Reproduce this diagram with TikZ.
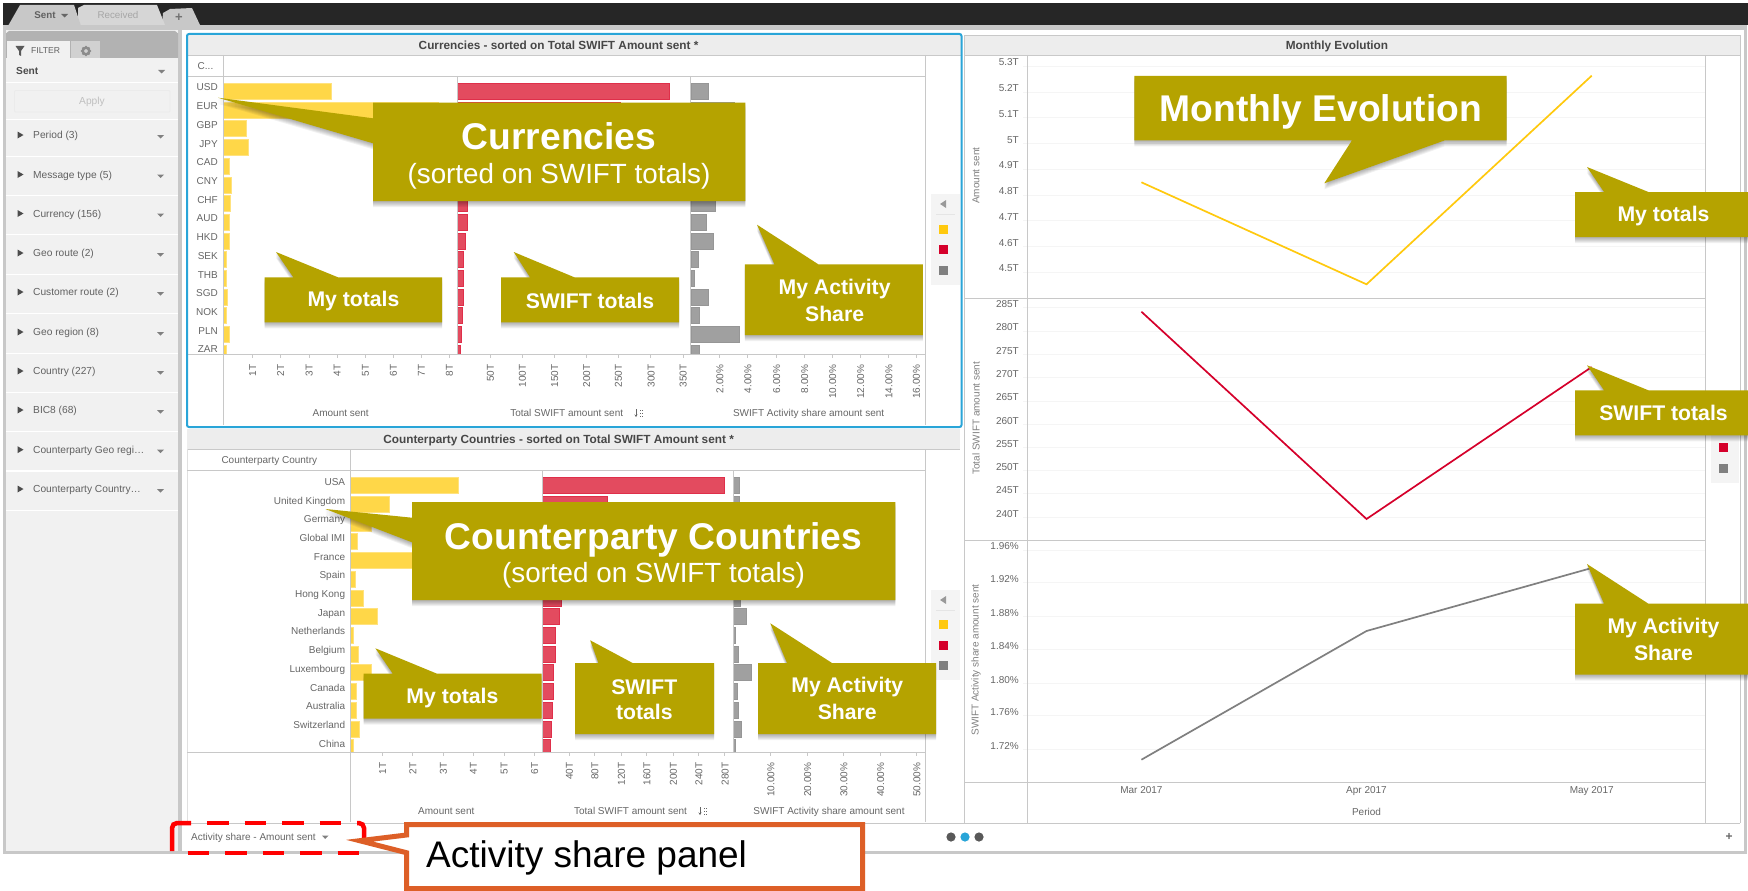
\documentclass[tikz,border=0pt]{standalone}
\usepackage{fontspec}
\setmainfont{Liberation Sans}
\definecolor{bubc}{HTML}{B5A300}
\definecolor{txt}{HTML}{666666}
\definecolor{frame}{HTML}{C8C8C8}
\definecolor{side}{HTML}{F1F1F1}
\definecolor{axisc}{HTML}{C8C8C8}
\definecolor{gridc}{HTML}{F5F5F5}
\definecolor{headc}{HTML}{EDEDED}
\definecolor{yfill}{HTML}{FFD748}
\definecolor{yedge}{HTML}{FFE27F}
\definecolor{rfill}{HTML}{E34B5F}
\definecolor{redge}{HTML}{DF2F4A}
\definecolor{gfill}{HTML}{A0A0A0}
\definecolor{gedge}{HTML}{969696}
\definecolor{lyel}{HTML}{FFC90E}
\definecolor{lred}{HTML}{D5002B}
\definecolor{lgry}{HTML}{808080}
\definecolor{orng}{HTML}{DD5F27}
\definecolor{blu}{HTML}{29A5D8}
\newcommand\fs[1]{\fontsize{#1}{#1}\selectfont}
\newcommand\bubble[1]{\foreach \dy in {1,...,6}{\fill[black,opacity=.055,shift={(0,\dy)}] #1;}\fill[bubc] #1;}
\newcommand\sorticon[2]{%
  \draw[txt,line width=.7,-{Stealth[length=2.5pt,width=3pt]}] (#1-3,#2-4) -- (#1-3,#2+4);
  \foreach \q in {-3.5,-.5,2.5}{\fill[txt] (#1+.5,#2+\q) rectangle +(1.4,1.4); \fill[txt] (#1+3,#2+\q) rectangle +(1.4,1.4);}}
\usetikzlibrary{arrows.meta}
\tikzset{
  x=1pt,y=-1pt,
  lab/.style={inner sep=0,text=txt,font=\fs{10},text height=7.2pt,text depth=0pt},
  ttl/.style={inner sep=0,text=black!72,font={\fs{11.8}\bfseries},text height=8.5pt,text depth=0pt},
  rot/.style={inner sep=0,text=black!50,font=\fs{10},rotate=90},
  tick/.style={lab,rotate=90,anchor=east},
  bbig/.style={inner sep=0,text=white,font={\fs{37.2}\bfseries},text height=26.6pt,text depth=0pt},
  bsub/.style={inner sep=0,text=white,font=\fs{27.8}},
  bmid/.style={inner sep=0,text=white,font={\fs{21.2}\bfseries}},
  axl/.style={axisc,line width=.9},
  grd/.style={gridc,line width=.9},
  plot/.style={line width=1.7,line join=miter},
  yb/.style={fill=yfill,draw=yedge,line width=.7},
  rb/.style={fill=rfill,draw=redge,line width=.7},
  gb/.style={fill=gfill,draw=gedge,line width=.7},
  sidetxt/.style={inner sep=0,text=black!62,font=\fs{10.2},anchor=west,text height=7.4pt,text depth=0pt},
  dashbox/.style={red,line width=4.5,dash pattern=on 21.5pt off 16pt},
  solidbox/.style={red,line width=4.5,rounded corners=5pt},
}
\begin{document}
\begin{tikzpicture}
\useasboundingbox (0,0) rectangle (1748,891);
\fill[white] (0,0) rectangle (1748,891);
% window frame
\fill[frame] (3,3) rectangle (1747,854);
\fill[white] (182,30) rectangle (1744,851);
\fill[black!85] (3,3) rectangle (1748,25);
% tabs
\fill[frame] (162,25) -- (163,13) -- (170,9) -- (192,8) -- (200,25) -- cycle;
\fill[black!16] (78,25) -- (78,8) -- (84,5) -- (157,5) -- (165,25) -- cycle;
\fill[frame] (8,26) -- (20,5) -- (74,5) -- (81,26) -- cycle;
\node[inner sep=0,text=black!62,font={\fs{9.8}\bfseries}] (tabsent) at (45,15) {Sent};
\fill[black!60] (61,14) -- (68,14) -- (64.5,17.5) -- cycle;
\node[inner sep=0,text=black!35,font=\fs{9.8}] (tabrecv) at (118,15) {Received};
\node[inner sep=0,text=black!55,font={\fs{13}\bfseries}] (tabplus) at (179,18) {+};
% sidebar
\fill[side] (6,30) rectangle (178,851);
\fill[black!30] (6,33) to[out=-90,in=180] (9,31) -- (175,31) to[out=0,in=-90] (178,33) -- (178,58) -- (6,58) -- cycle;
\fill[side] (7,41) rectangle (70,58);
\fill[black!18] (71,41) rectangle (100,58);
\fill[black!65] (15.5,46) -- (24.5,46) -- (21,51) -- (21,56) -- (19,55) -- (19,51) -- cycle;
\node[inner sep=0,text=black!62,font=\fs{8.6},anchor=west] (filt) at (31,51) {FILTER};
\fill[black!45,even odd rule] (86,51) circle (4.5) (86,51) circle (2);
\foreach \a in {0,45,...,315}{\fill[black!45] (86,51) ++(\a:4) circle (1.3);}
\node[inner sep=0,text=black!70,font={\fs{10.2}\bfseries},anchor=west] (sent) at (16,71) {Sent};
\fill[black!50] (158,70) -- (165,70) -- (161.5,73.5) -- cycle;
\draw[white,line width=1.2] (6,82.5) -- (178,82.5);
\draw[black!8,line width=.8,rounded corners=1pt,fill=side] (14.5,90.5) rectangle (170,112);
\node[inner sep=0,text=black!25,font=\fs{10.2}] (apply) at (92,101.5) {Apply};
\draw[white,line width=1.2] (6,119.5) -- (178,119.5);
\foreach \yy/\lbl [count=\i] in {135/Period (3),174.5/Message type (5),213.5/Currency (156),253/Geo route (2),292/Customer route (2),332/Geo region (8),371/Country (227),410/BIC8 (68),449.7/Counterparty Geo regi…,489/Counterparty Country…}{
  \node[sidetxt] (flt\i) at (33,\yy) {\lbl};
  \fill[black!70] (17.5,\yy-3.5) -- (23.5,\yy) -- (17.5,\yy+3.5) -- cycle;
  \fill[black!50] (157,\yy) -- (164,\yy) -- (160.5,\yy+3.5) -- cycle;
  \draw[white,line width=1.2] (6,\yy+21.3) -- (178,\yy+21.3);
}
% ---------- Currencies panel
\fill[headc] (187,34) rectangle (961,55);
\draw[headc!85!black,line width=.8] (187,55) -- (961,55);
\node[ttl] (curt) at (558.6,45) {Currencies - sorted on Total SWIFT Amount sent *};
\node[lab] (curc) at (205.5,66) {C...};
\begin{scope}
\clip (187,76) rectangle (925,353.5);
\foreach \v [count=\i from 0] in {297,507,130,134,96,101,99,96,96,91,91,92,91,96,91}{
  \pgfmathsetmacro\cy{91.3+18.71*\i}
  \path[yb] (223.4,\cy-8) rectangle ({180+\v/1.96},\cy+8);}
\foreach \v [count=\i from 0] in {960,863,700,680,640,620,563,563,559,555,555,555,553,552,549}{
  \pgfmathsetmacro\cy{91.3+18.71*\i}
  \path[rb] (457.5,\cy-8) rectangle ({180+\v/1.96},\cy+8);}
\foreach \v [count=\i from 0] in {1035,1087,1040,1030,1040,1040,1050,1031,1045,1015,1008,1035,1018,1096,1018}{
  \pgfmathsetmacro\cy{91.3+18.71*\i}
  \path[gb] (691,\cy-8) rectangle ({180+\v/1.96},\cy+8);}
\end{scope}
\foreach \lbl [count=\i from 0] in {USD,EUR,GBP,JPY,CAD,CNY,CHF,AUD,HKD,SEK,THB,SGD,NOK,PLN,ZAR}{
  \node[lab,anchor=east] (cur\i) at (218,87.3+18.71*\i) {\lbl};}
\draw[axl] (223.4,55) -- (223.4,425);
\draw[axl] (925,55) -- (925,425);
\draw[axl] (187,76) -- (925,76);
\draw[axl] (187,354) -- (925,354);
\draw[axl] (457,76) -- (457,354);
\draw[axl] (690.7,76) -- (690.7,354);
\foreach \z/\lbl [count=\i] in {142/1T,197/2T,253/3T,308/4T,363/5T,418/6T,473/7T,528/8T,608/50T,671/100T,734/150T,797/200T,859/250T,923/300T,986/350T,1058/2.00\%,1113/4.00\%,1169/6.00\%,1224/8.00\%,1279/10.00\%,1334/12.00\%,1389/14.00\%,1443/16.00\%}{
  \draw[axl] ({180+\z/1.96},354) -- ++(0,4);
  \node[tick] (ct\i) at ({180+\z/1.96},364.5) {\lbl};}
\node[lab] (cax1) at (340.7,413) {Amount sent};
\node[lab] (cax2) at (566.7,413) {Total SWIFT amount sent};
\sorticon{639}{413}
\node[lab] (cax3) at (808.6,413) {SWIFT Activity share amount sent};
% legend top
\fill[headc!60!white] (931,194) rectangle (960,285);
\fill[black!40] (946,200) -- (946,208) -- (940,204) -- cycle;
\draw[black!10] (936,214) -- (955,214);
\fill[lyel] (938.5,224.5) rectangle (947.5,233.5);
\fill[lred] (938.5,245) rectangle (947.5,254);
\fill[lgry] (938.5,265.5) rectangle (947.5,274.5);
\draw[blu,line width=2,rounded corners=2pt] (187,34) rectangle (961.5,427);
% ---------- Counterparty panel
\fill[headc] (187,429) rectangle (960,449);
\draw[headc!85!black,line width=.8] (187,449) -- (960,449);
\node[ttl] (cpt) at (558.6,439) {Counterparty Countries - sorted on Total SWIFT Amount sent *};
\node[lab] (cpc) at (269.3,460) {Counterparty Country};
\begin{scope}
\clip (187,470) rectangle (925,751.8);
\foreach \v [count=\i from 0] in {545,411,375,347,520,344,360,387,340,349,376,345,345,351,340}{
  \pgfmathsetmacro\cy{485.7+18.71*\i}
  \path[yb] (350.8,\cy-8) rectangle ({180+\v/1.96},\cy+8);}
\foreach \v [count=\i from 0] in {1066,838,800,780,770,760,748,744,736,736,732,732,730,728,726}{
  \pgfmathsetmacro\cy{485.7+18.71*\i}
  \path[rb] (542.6,\cy-8) rectangle ({180+\v/1.96},\cy+8);}
\foreach \v [count=\i from 0] in {1097,1097,1095,1093,1095,1096,1098,1111,1089,1094,1120,1093,1094,1101,1089}{
  \pgfmathsetmacro\cy{485.7+18.71*\i}
  \path[gb] (733.4,\cy-8) rectangle ({180+\v/1.96},\cy+8);}
\end{scope}
\foreach \lbl [count=\i from 0] in {USA,United Kingdom,Germany,Global IMI,France,Spain,Hong Kong,Japan,Netherlands,Belgium,Luxembourg,Canada,Australia,Switzerland,China}{
  \node[lab,anchor=east] (cp\i) at (345.3,481.7+18.71*\i) {\lbl};}
\draw[black!12,line width=.9] (187,449) -- (187,823);
\draw[axl] (350.4,449) -- (350.4,822);
\draw[axl] (925,449) -- (925,822);
\draw[axl] (187,470.3) -- (925,470.3);
\draw[axl] (187,752.3) -- (925,752.3);
\draw[axl] (187,823) -- (1740,823);
\draw[axl] (542.2,470.3) -- (542.2,752.3);
\draw[axl] (733,470.3) -- (733,752.3);
\foreach \z/\lbl [count=\i] in {397/1T,456/2T,516/3T,575/4T,635/5T,695/6T,763/40T,813/80T,865/120T,915/160T,967/200T,1017/240T,1068/280T,1158/10.00\%,1230/20.00\%,1301/30.00\%,1373/40.00\%,1444/50.00\%}{
  \draw[axl] ({180+\z/1.96},752.3) -- ++(0,4);
  \node[tick] (pt\i) at ({180+\z/1.96},762.5) {\lbl};}
\node[lab] (pax1) at (446.3,811) {Amount sent};
\node[lab] (pax2) at (630.5,811) {Total SWIFT amount sent};
\sorticon{703}{811}
\node[lab] (pax3) at (829,811) {SWIFT Activity share amount sent};
% legend lower
\fill[headc!60!white] (931,590) rectangle (960,680);
\fill[black!40] (946,596) -- (946,604) -- (940,600) -- cycle;
\draw[black!10] (936,610) -- (955,610);
\fill[lyel] (938.5,620.2) rectangle (947.5,629.2);
\fill[lred] (938.5,640.5) rectangle (947.5,649.5);
\fill[lgry] (938.5,661.2) rectangle (947.5,670.2);
% ---------- Monthly Evolution panel
\fill[headc] (964,35) rectangle (1740,55);
\draw[axisc,line width=.9] (964,55) -- (964,35) -- (1740,35) -- (1740,823);
\draw[axisc,line width=.9] (964,55) -- (964,823);
\draw[headc!85!black,line width=.8] (964,55) -- (1740,55);
\node[ttl] (mont) at (1337,45) {Monthly Evolution};
\foreach \g/\lbl [count=\i] in {66/5.3T,92/5.2T,117.3/5.1T,143.3/5T,169/4.9T,195/4.8T,220.3/4.7T,246.7/4.6T,272/4.5T,307.3/285T,331/280T,354.3/275T,377.7/270T,401/265T,424.3/260T,447.3/255T,470.3/250T,493.7/245T,517.3/240T,550/1.96\%,582.7/1.92\%,616.3/1.88\%,649.3/1.84\%,683.3/1.80\%,715.7/1.76\%,749.3/1.72\%}{
  \draw[grd] (1023,\g) -- (1705,\g);
  \node[lab,anchor=east] (my\i) at (1019,\g-3.7) {\lbl};}
\draw[axl] (1027.3,55) -- (1027.3,823);
\draw[axl] (1705,55) -- (1705,823);
\draw[axl] (964,298.3) -- (1705,298.3);
\draw[axl,line width=1.2] (964,540.3) -- (1705,540.3);
\draw[axl] (964,782.3) -- (1705,782.3);
\coordinate (y1) at (1141.4,182.3);\coordinate (y2) at (1366.5,284.3);\coordinate (y3) at (1591.7,75.7);
\coordinate (r1) at (1141.4,311.7);\coordinate (r2) at (1366.5,519);\coordinate (r3) at (1591.7,367);
\coordinate (g1) at (1141.4,759.7);\coordinate (g2) at (1366.5,631);\coordinate (g3) at (1591.7,568);
\draw[plot,lyel] (y1) -- (y2) -- (y3);
\draw[plot,lred] (r1) -- (r2) -- (r3);
\draw[plot,lgry] (g1) -- (g2) -- (g3);
\node[rot] (ya) at (976,175.7) {Amount sent};
\node[rot] (yb) at (976,418.3) {Total SWIFT amount sent};
\node[rot] (yc) at (976,660) {SWIFT Activity share amount sent};
\node[lab] (xa) at (1141.4,790.3) {Mar 2017};
\node[lab] (xb) at (1366.5,790.3) {Apr 2017};
\node[lab] (xc) at (1591.7,790.3) {May 2017};
\node[lab] (xt) at (1366.5,812) {Period};
% legend right
\fill[headc!60!white] (1711,393) rectangle (1739,483);
\fill[lred] (1718.5,443) rectangle (1727.5,452);
\fill[lgry] (1718.5,463.5) rectangle (1727.5,472.5);
% bottom strip
\node[lab,anchor=west] (asb) at (191,836.7) {Activity share - Amount sent};
\fill[black!50] (322,835.5) -- (328.5,835.5) -- (325.2,839) -- cycle;
\fill[black!65] (951,837) circle (4.6);
\fill[blu] (965,837) circle (4.6);
\fill[black!65] (979,837) circle (4.6);
\node[inner sep=0,text=black!60,font={\fs{12}\bfseries}] (plusb) at (1729,837) {+};
% ---------- callouts
\bubble{(373,102.7) -- (745.3,102.7) -- (745.3,201) -- (373,201) -- (373,143.3) -- (218,97.7) -- (373,118.3) -- cycle}
\node[bbig] (n1) at (559,136) {Currencies};
\node[bsub] (n2) at (559,176.5) {(sorted on SWIFT totals)};
\bubble{(264.7,277.3) -- (293.3,277.3) -- (276,252) -- (338,277.3) -- (442.2,277.3) -- (442.2,322.3) -- (264.7,322.3) -- cycle}
\node[bmid] (n3) at (353.5,300.7) {My totals};
\bubble{(501,277.3) -- (530,277.3) -- (513.7,252) -- (574.4,277.3) -- (679,277.3) -- (679,322.3) -- (501,322.3) -- cycle}
\node[bmid] (n4) at (590,300.7) {SWIFT totals};
\bubble{(744.8,264.3) -- (774.4,264.3) -- (757,224.7) -- (818.3,264.3) -- (922.9,264.3) -- (922.9,335) -- (744.8,335) -- cycle}
\node[bmid] (n5) at (834.6,289.3) {My Activity};
\node[bmid] (n6) at (834.6,313.7) {Share};
\bubble{(412,502) -- (895.3,502) -- (895.3,600) -- (412,600) -- (412,542.3) -- (325.4,509) -- (412,517.7) -- cycle}
\node[bbig] (n7) at (653.5,535.7) {Counterparty Countries};
\node[bsub] (n8) at (653.5,575.3) {(sorted on SWIFT totals)};
\bubble{(363.7,673.7) -- (392.8,673.7) -- (375.4,648.3) -- (437,673.7) -- (541.7,673.7) -- (541.7,718.7) -- (363.7,718.7) -- cycle}
\node[bmid] (n9) at (452.4,697.7) {My totals};
\bubble{(575,663) -- (598.4,663) -- (590.2,640.3) -- (632.6,663) -- (714,663) -- (714,734) -- (575,734) -- cycle}
\node[bmid] (n10) at (644.3,686.7) {SWIFT};
\node[bmid] (n11) at (644.3,712) {totals};
\bubble{(758,663) -- (787,663) -- (770.3,623.3) -- (832,663) -- (936,663) -- (936,734) -- (758,734) -- cycle}
\node[bmid] (n12) at (847.3,686.7) {My Activity};
\node[bmid] (n13) at (847.3,712) {Share};
\bubble{(1134.4,76) -- (1506.7,76) -- (1506.7,140.3) -- (1445,140.3) -- (1324.3,183.3) -- (1352,140.3) -- (1134.4,140.3) -- cycle}
\node[bbig] (n14) at (1320.8,108.5) {Monthly Evolution};
\bubble{(1575,192) -- (1604,192) -- (1587,167) -- (1648.4,192) -- (1748,192) -- (1748,237) -- (1575,237) -- cycle}
\node[bmid] (n15) at (1663.5,215.7) {My totals};
\bubble{(1575,390.3) -- (1604,390.3) -- (1587,365.3) -- (1648.4,390.3) -- (1748,390.3) -- (1748,435.3) -- (1575,435.3) -- cycle}
\node[bmid] (n16) at (1663.5,413.3) {SWIFT totals};
\bubble{(1575,603.7) -- (1604,603.7) -- (1587,564) -- (1648.4,603.7) -- (1748,603.7) -- (1748,674.7) -- (1575,674.7) -- cycle}
\node[bmid] (n17) at (1663.5,627.7) {My Activity};
\node[bmid] (n18) at (1663.5,652.7) {Share};
% ---------- activity share panel marker
\draw[solidbox] (172,851) -- (172,823) -- (191,823);
\draw[dashbox] (207,823) -- (343,823);
\draw[solidbox] (357,823) -- (364,823) -- (364,839);
\draw[dashbox] (187.7,853) -- (359,853);
\draw[orng,line width=5,fill=white,line join=miter] (406.5,824.7) -- (862.6,824.7) -- (862.6,888.5) -- (406.5,888.5) -- (406.5,852.7) -- (359.6,840.7) -- (406.5,835) -- cycle;
\node[inner sep=0,anchor=west,font=\fs{37},text=black] (asp) at (426,858) {Activity share panel};
\end{tikzpicture}
\end{document}
